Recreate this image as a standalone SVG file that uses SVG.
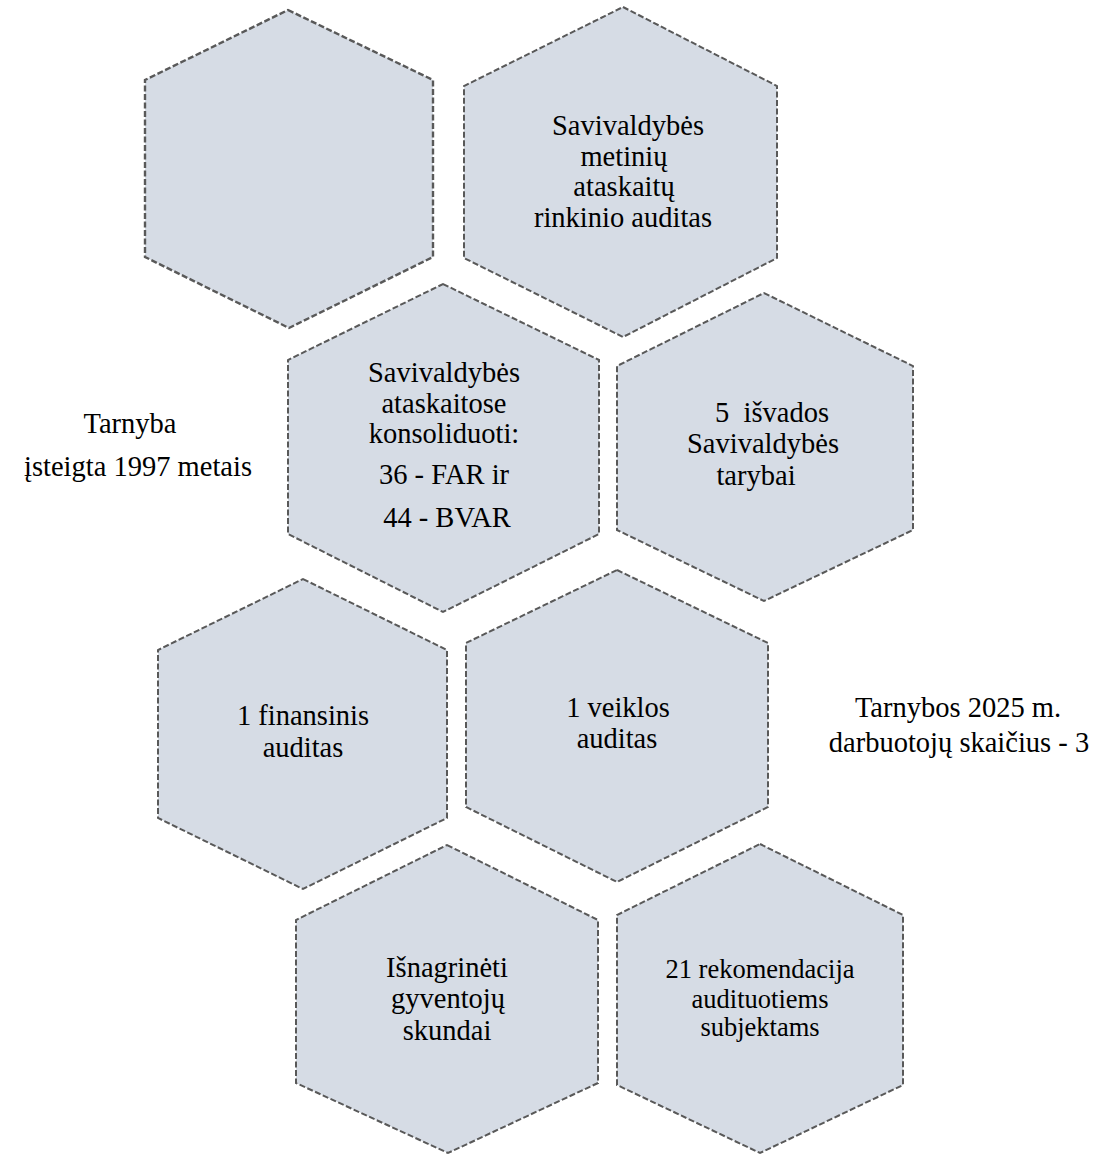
<svg xmlns="http://www.w3.org/2000/svg" width="1104" height="1155" viewBox="0 0 1104 1155">
<style>
.hex{fill:#D6DCE5;stroke:#595959;stroke-width:2;stroke-dasharray:6 2.5;stroke-linejoin:miter}
.t{font-family:"Liberation Serif","Times New Roman",serif;font-size:28.5px;fill:#000;text-anchor:middle}
.s{font-size:26.5px}
</style>
<rect width="1104" height="1155" fill="#fff"/>
<g id="hex-empty"><polygon class="hex" style="stroke-width:2.4" points="288,10 433,80 433,257 289,328 145,257 145,80"/></g>
<g id="hex-metiniu"><polygon class="hex" points="623,7 777,86 777,258 623,337 464,258 464,86"/>
<text class="t" x="628" y="135">Savivaldybės</text>
<text class="t" x="624" y="166">metinių</text>
<text class="t" x="624" y="196">ataskaitų</text>
<text class="t" x="623" y="227">rinkinio auditas</text></g>
<g id="hex-konsoliduoti"><polygon class="hex" points="443,284 599,360 599,534 443,612 288,534 288,360"/>
<text class="t" x="444" y="382">Savivaldybės</text>
<text class="t" x="444" y="413">ataskaitose</text>
<text class="t" x="444" y="443">konsoliduoti:</text>
<text class="t" x="444" y="484">36 - FAR ir</text>
<text class="t" x="447" y="527">44 - BVAR</text></g>
<g id="hex-isvados"><polygon class="hex" points="764,293 913,366 913,530 764,601 617,530 617,366"/>
<text class="t" x="772" y="422" xml:space="preserve">5  išvados</text>
<text class="t" x="763" y="453">Savivaldybės</text>
<text class="t" x="756" y="485">tarybai</text></g>
<g id="hex-finansinis"><polygon class="hex" points="303,579 447,650 447,818 303,889 158,818 158,650"/>
<text class="t" x="303" y="725">1 finansinis</text>
<text class="t" x="303" y="757">auditas</text></g>
<g id="hex-veiklos"><polygon class="hex" points="617,570 768,643 768,807 617,882 466,807 466,643"/>
<text class="t" x="618" y="717">1 veiklos</text>
<text class="t" x="617" y="748">auditas</text></g>
<g id="hex-skundai"><polygon class="hex" points="447,845 598,920 598,1083 448,1153 296,1083 296,920"/>
<text class="t" x="447" y="977">Išnagrinėti</text>
<text class="t" x="448" y="1008">gyventojų</text>
<text class="t" x="447" y="1040">skundai</text></g>
<g id="hex-rekomendacija"><polygon class="hex" points="760,844 903,915 903,1085 760,1153 617,1085 617,915"/>
<text class="t s" x="760" y="978">21 rekomendacija</text>
<text class="t s" x="760" y="1008">audituotiems</text>
<text class="t s" x="760" y="1036">subjektams</text></g>
<g id="label-tarnyba">
<text class="t" x="130" y="433">Tarnyba</text>
<text class="t" x="138" y="476">įsteigta 1997 metais</text></g>
<g id="label-darbuotojai">
<text class="t" x="958" y="717">Tarnybos 2025 m.</text>
<text class="t" x="959" y="752">darbuotojų skaičius - 3</text></g>
<g id="connectors"></g>
</svg>
